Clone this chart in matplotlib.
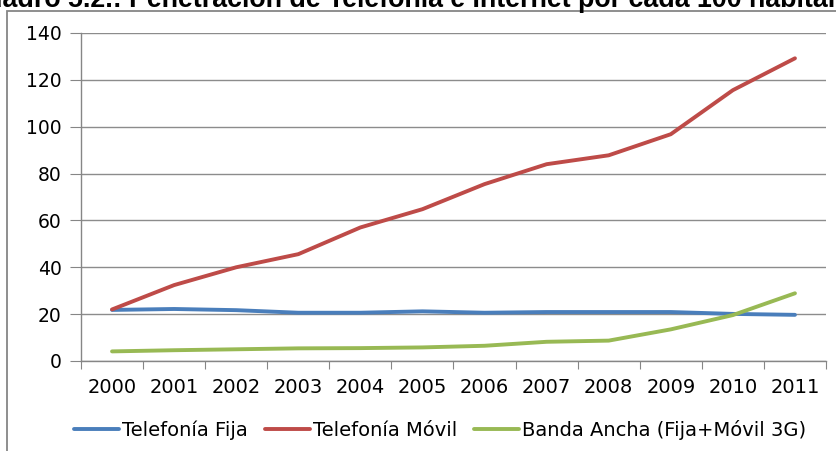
import matplotlib
matplotlib.use("Agg")
import matplotlib.pyplot as plt
import matplotlib.patches as patches

years = ["2000", "2001", "2002", "2003", "2004", "2005",
         "2006", "2007", "2008", "2009", "2010", "2011"]
fija = [21.8, 22.2, 21.7, 20.6, 20.6, 21.2, 20.6, 20.9, 20.9, 20.9, 20.1, 19.7]
movil = [22.0, 32.4, 40.0, 45.6, 57.0, 64.8, 75.5, 84.0, 87.8, 96.8, 115.6, 129.2]
banda = [4.1, 4.6, 5.0, 5.4, 5.5, 5.8, 6.5, 8.2, 8.7, 13.5, 19.6, 28.9]
series_names = ["Telefonía Fija", "Telefonía Móvil", "Banda Ancha (Fija+Móvil 3G)"]
title = "Cuadro 5.2.: Penetración de Telefonía e Internet por cada 100 habitantes"

W, H = 837, 451
fig = plt.figure(figsize=(W / 100, H / 100), dpi=100)

# chart frame (cut off at right and bottom like the screenshot)
fig.add_artist(patches.Rectangle((7 / W, -0.1), 1.2, 1.1 - 11 / H,
                                 transform=fig.transFigure, fill=False,
                                 edgecolor="#868686", linewidth=1.3))

# title, cut at top and left like the screenshot
fig.text(-33 / W, 1 - 7 / H, title, fontsize=19.3, fontweight="bold",
         family="Liberation Sans", va="baseline", ha="left")

ax = fig.add_axes([81 / W, 1 - 361 / H, (826 - 81) / W, (361 - 33) / H])

colors = ["#4A7EBB", "#BE4B48", "#98B954"]
x = list(range(len(years)))
for vals, name, c in zip([fija, movil, banda], series_names, colors):
    ax.plot(x, vals, color=c, linewidth=2.8, label=name, solid_capstyle="round")

ax.set_xlim(-0.5, len(years) - 0.5)
ax.set_ylim(0, 140)
ax.set_yticks(range(0, 141, 20))
ax.yaxis.grid(True, color="#8c8c8c", linewidth=1)
ax.set_axisbelow(True)

ax.set_xticks([i - 0.5 for i in range(len(years) + 1)])
ax.set_xticklabels([])
ax.set_xticks(x, minor=True)
ax.set_xticklabels(years, minor=True)
ax.tick_params(axis="x", which="major", length=6, color="#868686", direction="out")
ax.tick_params(axis="x", which="minor", length=0, pad=12, labelsize=14)
ax.tick_params(axis="y", length=8, color="#868686", pad=6, labelsize=13.5)

for s in ["top", "right"]:
    ax.spines[s].set_visible(False)
for s in ["left", "bottom"]:
    ax.spines[s].set_color("#868686")
    ax.spines[s].set_linewidth(1)

fig.legend(loc="center", bbox_to_anchor=(440 / W, 1 - 430 / H), ncol=3,
           frameon=False, fontsize=14, handlelength=2.3, handletextpad=0.15,
           columnspacing=0.9)

fig.savefig("out.png", dpi=100)
